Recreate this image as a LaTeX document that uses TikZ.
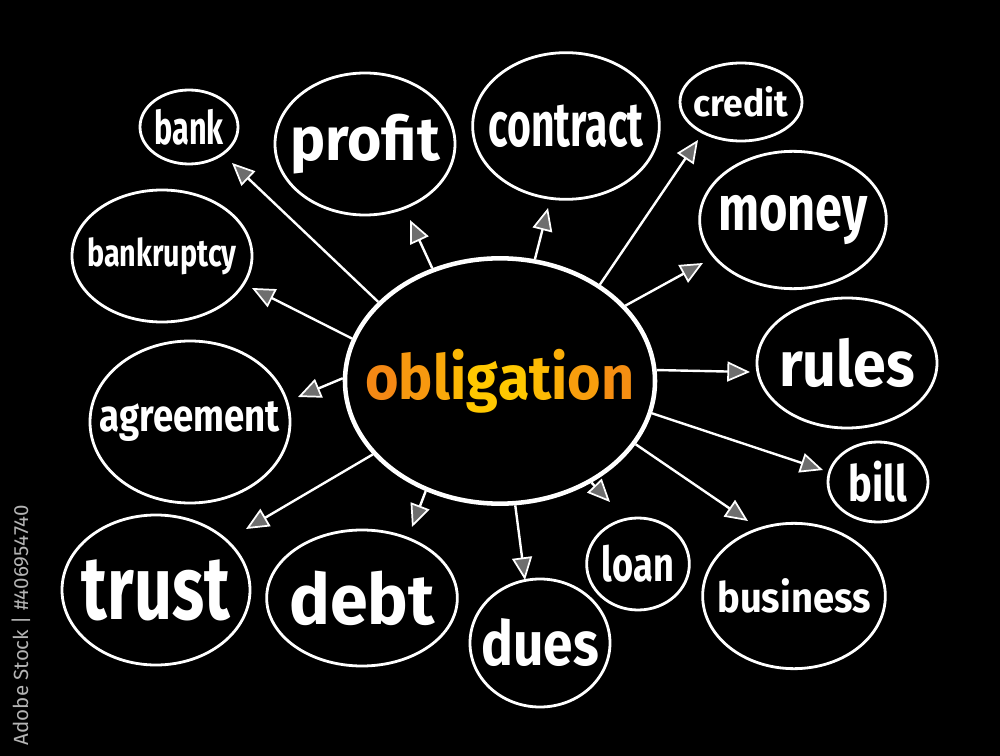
\documentclass[tikz,border=0pt]{standalone}
\usepackage{fontspec}
\setmainfont{Fira Sans}
\usetikzlibrary{shapes.geometric,arrows.meta}
\definecolor{obA}{RGB}{244,136,20}
\definecolor{obB}{RGB}{255,200,0}
\definecolor{wmgray}{RGB}{180,180,180}
\definecolor{hatch}{RGB}{110,110,110}
\newcommand{\fitw}[3]{\resizebox*{#1}{#2}{\bfseries #3}}
\newcommand{\ol}[2]{\textcolor{obB!#1!obA}{#2}}
\begin{document}
\begin{tikzpicture}[x=0.75pt,y=-0.75pt,
  bubble/.style={ellipse, draw=white, line width=2.1pt, fill=black, inner sep=0pt},
  word/.style={label={[text=white, inner sep=0pt]center:{#1}}},
  link/.style={draw=white, line width=1.8pt, -{Triangle[length=17pt, width=15pt, line width=1.3pt, fill=hatch]}}]
\fill[black] (0,0) rectangle (1000,756);
\useasboundingbox (0,0) rectangle (1000,756);

% central node
\node[bubble, line width=3.4pt, minimum width=232.5pt, minimum height=184pt,
  word={\fitw{202pt}{48pt}{\ol{0}{o}\ol{25}{b}\ol{50}{l}\ol{75}{i}\ol{100}{g}\ol{100}{a}\ol{80}{t}\ol{60}{i}\ol{35}{o}\ol{10}{n}}}] (c) at (500,381) {};

% satellites
\node[bubble, minimum width=73.5pt, minimum height=55.5pt, word={\fitw{52pt}{27pt}{bank}}] (bank) at (189,127) {};
\node[bubble, minimum width=135pt, minimum height=106.5pt, word={\fitw{112pt}{45pt}{profit}}] (profit) at (365,144) {};
\node[bubble, minimum width=140pt, minimum height=110pt, word={\fitw{116pt}{32pt}{contract}}] (contract) at (566,126) {};
\node[bubble, minimum width=91.5pt, minimum height=58.5pt, word={\fitw{71pt}{23pt}{credit}}] (credit) at (741,102) {};
\node[bubble, minimum width=135pt, minimum height=99pt, word={\fitw{112pt}{28pt}{bankruptcy}}] (bankruptcy) at (162,256) {};
\node[bubble, minimum width=140pt, minimum height=103pt, word={\fitw{112pt}{37pt}{money}}] (money) at (793,220) {};
\node[bubble, minimum width=150pt, minimum height=121.5pt, word={\fitw{135pt}{30pt}{agreement}}] (agreement) at (190,422) {};
\node[bubble, minimum width=135pt, minimum height=97.5pt, word={\fitw{102pt}{37pt}{rules}}] (rules) at (847,363) {};
\node[bubble, minimum width=75pt, minimum height=60pt, word={\fitw{44pt}{31pt}{bill}}] (bill) at (878,482) {};
\node[bubble, minimum width=141pt, minimum height=112.5pt, word={\fitw{111pt}{46pt}{trust}}] (trust) at (156,590) {};
\node[bubble, minimum width=143pt, minimum height=102pt, word={\fitw{109pt}{41pt}{debt}}] (debt) at (362,598) {};
\node[bubble, minimum width=105pt, minimum height=96pt, word={\fitw{88pt}{36pt}{dues}}] (dues) at (540,643) {};
\node[bubble, minimum width=77pt, minimum height=69pt, word={\fitw{54pt}{28pt}{loan}}] (loan) at (638,564) {};
\node[bubble, minimum width=137pt, minimum height=109pt, word={\fitw{115pt}{26pt}{business}}] (business) at (794,596) {};

% arrow tips
\coordinate (tbank) at (232,163);
\coordinate (tprofit) at (410,220);
\coordinate (tcontract) at (548,208);
\coordinate (tcredit) at (698,140);
\coordinate (tbankruptcy) at (252,288);
\coordinate (tmoney) at (703,263);
\coordinate (trules) at (750,372);
\coordinate (tbill) at (823,470);
\coordinate (tbusiness) at (748,521);
\coordinate (tloan) at (610,502);
\coordinate (tdues) at (525,580);
\coordinate (tdebt) at (412,527);
\coordinate (ttrust) at (246,529);
\coordinate (tagreement) at (298,397);

\draw[link] (c.147) -- (tbank);
\draw[link] (c.121) -- (tprofit);
\draw[link] (c.74) -- (tcontract);
\draw[link] (c.44) -- (tcredit);
\draw[link] (c.164) -- (tbankruptcy);
\draw[link] (c.31) -- (tmoney);
\draw[link] (c.4) -- (trules);
\draw[link] (c.-12) -- (tbill);
\draw[link] (c.-25) -- (tbusiness);
\draw[link] (c.-48) -- (tloan);
\draw[link] (c.-83) -- (tdues);
\draw[link] (c.-124) -- (tdebt);
\draw[link] (c.-150) -- (ttrust);
\draw[link] (c.179) -- (tagreement);

% side credit
\node[rotate=90, text=wmgray, inner sep=0pt] (stock) at (21,625) {\resizebox{180pt}{!}{Adobe Stock | \#406954740}};
\end{tikzpicture}
\end{document}
